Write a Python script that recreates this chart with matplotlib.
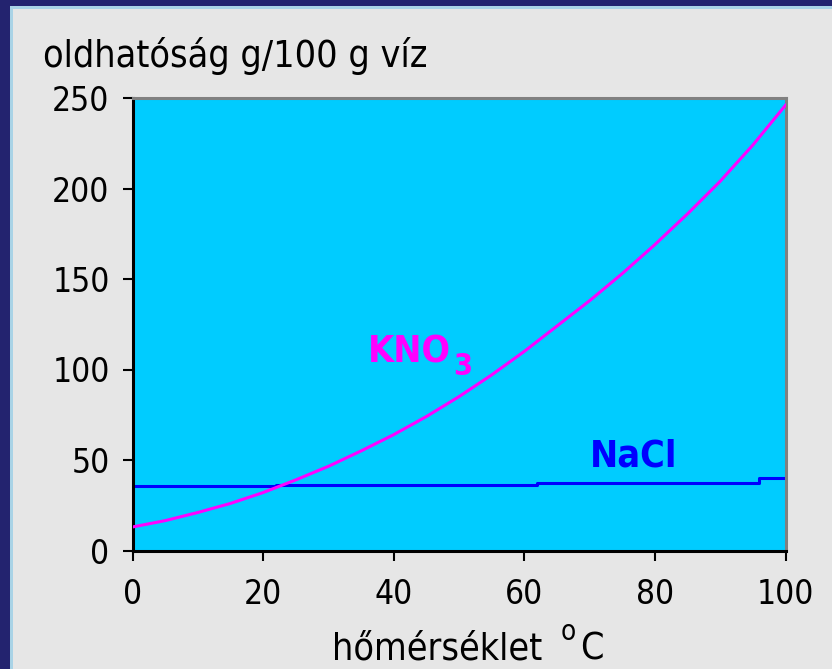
import matplotlib
matplotlib.use("Agg")
import matplotlib.pyplot as plt
from matplotlib.patches import Rectangle

# solubility (g / 100 g water)
temp = [0, 5, 10, 15, 20, 25, 30, 35, 40, 45, 50, 55, 60, 65, 70, 75, 80, 85, 90, 95, 100]
kno3 = [13, 16.5, 21, 26, 32, 39, 46.5, 55, 64, 74, 85, 97, 110, 124, 138, 153, 169, 186, 204, 224, 246]
nacl_temp = [0, 22, 62, 96, 100]
nacl = [35.5, 36.3, 37.5, 39.8, 39.8]
x_ticks = [0, 20, 40, 60, 80, 100]
y_ticks = [0, 50, 100, 150, 200, 250]

plt.rcParams['font.family'] = ['DejaVu Sans']
plt.rcParams['font.stretch'] = 'condensed'

W, H = 832, 669
fig = plt.figure(figsize=(W / 100, H / 100), dpi=100, facecolor='#23236f')
# light strip + gray panel inside the dark frame
fig.patches.append(Rectangle((10 / W, 0), 1, 1 - 6 / H, transform=fig.transFigure,
                             facecolor='#a9d3e6', edgecolor='none', zorder=-20))
fig.patches.append(Rectangle((13 / W, 0), 1, 1 - 9 / H, transform=fig.transFigure,
                             facecolor='#e6e6e6', edgecolor='none', zorder=-10))

left, right, bottom, top = 132.5, 785.5, 550.5, 98
ax = fig.add_axes([left / W, 1 - bottom / H, (right - left) / W, (bottom - top) / H])
ax.set_facecolor('#00ccff')
ax.set_xlim(0, 100)
ax.set_ylim(0, 250)

ax.plot(nacl_temp, nacl, color='#0000ff', lw=2.2, drawstyle='steps-post', zorder=2)
ax.plot(temp, kno3, color='#ff00ff', lw=2.2, zorder=3)

for side in ['left', 'bottom']:
    ax.spines[side].set_color('black')
    ax.spines[side].set_linewidth(2.2)
for side in ['top', 'right']:
    ax.spines[side].set_color('#808080')
    ax.spines[side].set_linewidth(2.2)

ax.set_xticks(x_ticks)
ax.set_yticks(y_ticks)
ax.tick_params(direction='out', length=7.5, width=1.5, labelsize=24, color='black')
ax.tick_params(axis='y', pad=9)
ax.tick_params(axis='x', pad=12)

ax.text(36, 103.7, 'KNO', color='#ff00ff', fontsize=27, fontweight='bold', va='baseline')
ax.text(49.1, 97, '3', color='#ff00ff', fontsize=22, fontweight='bold', va='baseline')
ax.text(70, 46.2, 'NaCl', color='#0000ff', fontsize=27, fontweight='bold', va='baseline')

fig.text(43 / W, 1 - 67 / H, 'oldhatóság g/100 g víz', fontsize=27, va='baseline')
fig.text(332 / W, 1 - 659 / H, 'hőmérséklet', fontsize=27, va='baseline')
fig.text(561 / W, 1 - 640 / H, 'o', fontsize=20, va='baseline')
fig.text(580 / W, 1 - 659 / H, 'C', fontsize=27, va='baseline')

fig.savefig('out.png', dpi=100, facecolor=fig.get_facecolor())
